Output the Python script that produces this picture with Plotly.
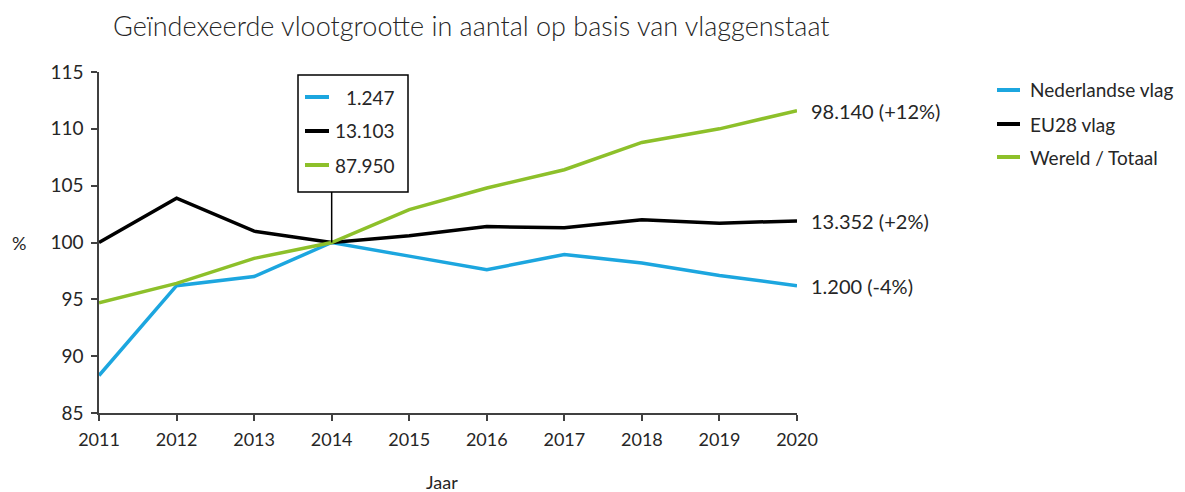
import plotly.graph_objects as go

years = [2011, 2012, 2013, 2014, 2015, 2016, 2017, 2018, 2019, 2020]
nl_index = [88.3, 96.2, 97.0, 100.0, 98.8, 97.6, 98.95, 98.2, 97.1, 96.2]
eu_index = [100.0, 103.9, 101.0, 100.0, 100.6, 101.4, 101.3, 102.0, 101.7, 101.9]
world_index = [94.7, 96.4, 98.6, 100.0, 102.9, 104.8, 106.4, 108.8, 110.0, 111.6]

series_names = ["Nederlandse vlag", "EU28 vlag", "Wereld / Totaal"]
base_2014_counts = ["1.247", "13.103", "87.950"]
end_2020_labels = ["1.200 (-4%)", "13.352 (+2%)", "98.140 (+12%)"]

colors = ["#1CA6DF", "#000000", "#8DC02A"]
FONT = "Lato"
TXT = "#262626"

OFF = 8  # page body margin
W, H = 1185 - OFF, 492 - OFF
# plot area in window pixels
L, R, T, B = 99, 797, 72, 413


def px(x):
    return (x - L) / (R - L)


def py(y):
    return (B - y) / (B - T)


fig = go.Figure()
all_series = [nl_index, eu_index, world_index]
for name, vals, col in zip(series_names, all_series, colors):
    fig.add_trace(go.Scatter(x=years, y=vals, mode="lines", name=name,
                             line=dict(color=col, width=3.5), showlegend=False))

shapes = []
annotations = []

# callout box at 2014
bx0, bx1, by0, by1 = 298, 408, 75, 192
shapes.append(dict(type="rect", xref="paper", yref="paper",
                   x0=px(bx0), x1=px(bx1), y0=py(by1), y1=py(by0),
                   line=dict(color="#000000", width=1.5), fillcolor="white"))
shapes.append(dict(type="line", xref="x", yref="paper",
                   x0=years[3], x1=years[3], y0=py(by1), y1=(world_index[3] - 85) / 30,
                   line=dict(color="#000000", width=1.5)))
row_y = [97, 131, 165]
for ry, col, txt in zip(row_y, colors, base_2014_counts):
    shapes.append(dict(type="line", xref="paper", yref="paper",
                       x0=px(305), x1=px(329), y0=py(ry), y1=py(ry),
                       line=dict(color=col, width=4)))
    annotations.append(dict(xref="paper", yref="paper", x=px(397), y=py(ry),
                            text=txt, showarrow=False, xanchor="right", yanchor="middle",
                            font=dict(family=FONT, size=19, color=TXT)))

# end labels
for vals, txt in zip(all_series, end_2020_labels):
    annotations.append(dict(xref="x", yref="y", x=years[-1], y=vals[-1], xshift=12,
                            text=txt, showarrow=False, xanchor="left", yanchor="middle",
                            font=dict(family=FONT, size=20, color=TXT)))

# legend (drawn manually)
leg_y = [90, 124, 157]
for ly, col, name in zip(leg_y, colors, series_names):
    shapes.append(dict(type="line", xref="paper", yref="paper",
                       x0=px(997), x1=px(1020), y0=py(ly), y1=py(ly),
                       line=dict(color=col, width=4)))
    annotations.append(dict(xref="paper", yref="paper", x=px(1028), y=py(ly),
                            text=name, showarrow=False, xanchor="left", yanchor="middle",
                            font=dict(family=FONT, size=19, color=TXT)))

# y axis label "%"
annotations.append(dict(xref="paper", yref="y", x=px(19), y=100, text="%",
                        showarrow=False, xanchor="center", yanchor="middle",
                        font=dict(family=FONT, size=18, color=TXT)))
# x axis title
annotations.append(dict(xref="paper", yref="paper", x=px(442), y=py(482), text="Jaar",
                        showarrow=False, xanchor="center", yanchor="middle",
                        font=dict(family=FONT, size=18, color=TXT)))

fig.update_layout(
    width=W, height=H,
    margin=dict(l=L - OFF, r=W - (R - OFF), t=T - OFF, b=H - (B - OFF)),
    paper_bgcolor="white", plot_bgcolor="white",
    title=dict(text="Geïndexeerde vlootgrootte in aantal op basis van vlaggenstaat",
               x=(113 - OFF) / W, xanchor="left", y=1 - (27 - OFF) / H, yanchor="middle",
               font=dict(family=FONT, size=27, color=TXT, weight=300)),
    font=dict(family=FONT, size=18, color=TXT),
    showlegend=False,
    shapes=shapes,
    annotations=annotations,
)
fig.update_xaxes(range=[2011, 2020], tickmode="array", tickvals=years,
                 ticktext=[str(y) for y in years],
                 showline=True, linecolor="#404040", linewidth=1.5,
                 ticks="outside", ticklen=6, tickcolor="#404040", tickwidth=1.5,
                 showgrid=False, zeroline=False, automargin=False,
                 ticklabelstandoff=4,
                 tickfont=dict(family=FONT, size=18, color=TXT))
fig.update_yaxes(range=[85, 115], dtick=5, tick0=85,
                 showline=True, linecolor="#404040", linewidth=1.5,
                 ticks="outside", ticklen=6, tickcolor="#404040", tickwidth=1.5,
                 showgrid=False, zeroline=False, automargin=False,
                 ticklabelstandoff=4,
                 tickfont=dict(family=FONT, size=19, color=TXT))

fig.write_html("out.html")
